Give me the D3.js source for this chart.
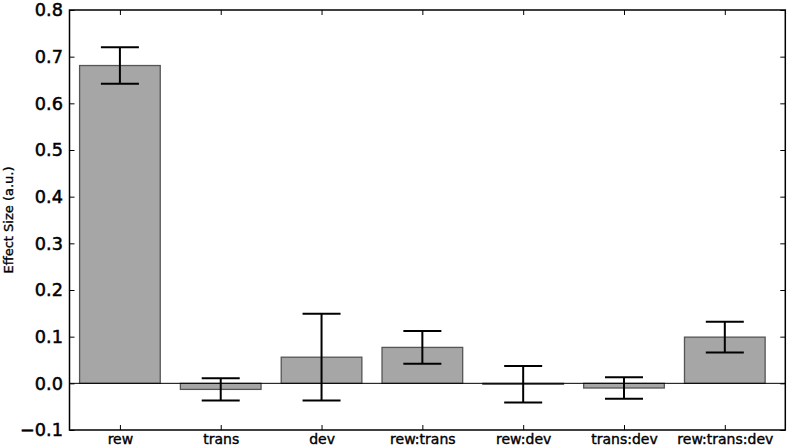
<!DOCTYPE html>
<html>
<head>
<meta charset="utf-8">
<script src="https://cdn.jsdelivr.net/npm/d3@7"></script>
<style>
  html, body { margin: 0; padding: 0; background: #fff; }
  svg { display: block; font-family: "DejaVu Sans", sans-serif; }
</style>
</head>
<body>
<svg id="chart" width="788" height="446"></svg>
<script>
const categories = ["rew", "trans", "dev", "rew:trans", "rew:dev", "trans:dev", "rew:trans:dev"];
const values = [0.681, -0.013, 0.056, 0.077, -0.002, -0.010, 0.099];
const errors = [0.039, 0.024, 0.093, 0.035, 0.039, 0.023, 0.033];
const yTicks = [-0.1, 0.0, 0.1, 0.2, 0.3, 0.4, 0.5, 0.6, 0.7, 0.8];
const yLabel = "Effect Size (a.u.)";

const svg = d3.select("#chart");
const L = 69.5, R = 785.3, T = 10, B = 430;

const x = d3.scaleLinear().domain([-0.5, 6.6]).range([L, R]);
const y = d3.scaleLinear().domain([-0.1, 0.8]).range([B, T]);
const barW = x(0.8) - x(0);
const capW = 38;
const idx = d3.range(categories.length);

// bars
svg.append("g").selectAll("rect").data(idx).join("rect")
  .attr("x", i => x(i) - barW / 2)
  .attr("y", i => y(Math.max(0, values[i])))
  .attr("width", barW)
  .attr("height", i => Math.abs(y(values[i]) - y(0)))
  .attr("fill", "#a6a6a6")
  .attr("stroke", "#555")
  .attr("stroke-width", 1.3);

// zero line
svg.append("line")
  .attr("x1", L).attr("x2", R)
  .attr("y1", y(0)).attr("y2", y(0))
  .attr("stroke", "#000").attr("stroke-width", 1);

// error bars
const eb = svg.append("g").attr("stroke", "#000").attr("stroke-width", 2);
idx.forEach(i => {
  const lo = y(values[i] - errors[i]), hi = y(values[i] + errors[i]);
  eb.append("line").attr("x1", x(i)).attr("x2", x(i)).attr("y1", lo).attr("y2", hi);
  eb.append("line").attr("x1", x(i) - capW / 2).attr("x2", x(i) + capW / 2).attr("y1", lo).attr("y2", lo);
  eb.append("line").attr("x1", x(i) - capW / 2).attr("x2", x(i) + capW / 2).attr("y1", hi).attr("y2", hi);
});

// axes
const fmt = d3.format(".1f");
const yAxisL = svg.append("g").attr("transform", `translate(${L},0)`)
  .call(d3.axisLeft(y).tickValues(yTicks).tickFormat(fmt).tickSizeInner(-5).tickSizeOuter(0).tickPadding(6.5));
const yAxisR = svg.append("g").attr("transform", `translate(${R},0)`)
  .call(d3.axisRight(y).tickValues(yTicks).tickFormat("").tickSizeInner(-5).tickSizeOuter(0));
const xAxisB = svg.append("g").attr("transform", `translate(0,${B})`)
  .call(d3.axisBottom(x).tickValues(idx).tickFormat(i => categories[i]).tickSizeInner(-5).tickSizeOuter(0).tickPadding(4));
const xAxisT = svg.append("g").attr("transform", `translate(0,${T})`)
  .call(d3.axisTop(x).tickValues(idx).tickFormat("").tickSizeInner(-5).tickSizeOuter(0));

[yAxisL, yAxisR, xAxisB, xAxisT].forEach(g => {
  g.select(".domain").remove();
  g.selectAll(".tick line").attr("stroke", "#000").attr("stroke-width", 1);
});
yAxisL.selectAll("text").attr("font-size", 17.7).attr("fill", "#000").attr("font-family", "DejaVu Sans")
  .attr("stroke", "#000").attr("stroke-width", 0.5);
xAxisB.selectAll("text").attr("font-size", 14).attr("fill", "#000").attr("font-family", "DejaVu Sans")
  .attr("stroke", "#000").attr("stroke-width", 0.4);

// frame
svg.append("rect")
  .attr("x", L).attr("y", T).attr("width", R - L).attr("height", B - T)
  .attr("fill", "none").attr("stroke", "#000").attr("stroke-width", 1.5);

// y label
svg.append("text")
  .attr("transform", `translate(13,${(T + B) / 2}) rotate(-90)`)
  .attr("text-anchor", "middle")
  .attr("font-size", 13)
  .attr("fill", "#000")
  .attr("stroke", "#000").attr("stroke-width", 0.35)
  .text(yLabel);
</script>
</body>
</html>
